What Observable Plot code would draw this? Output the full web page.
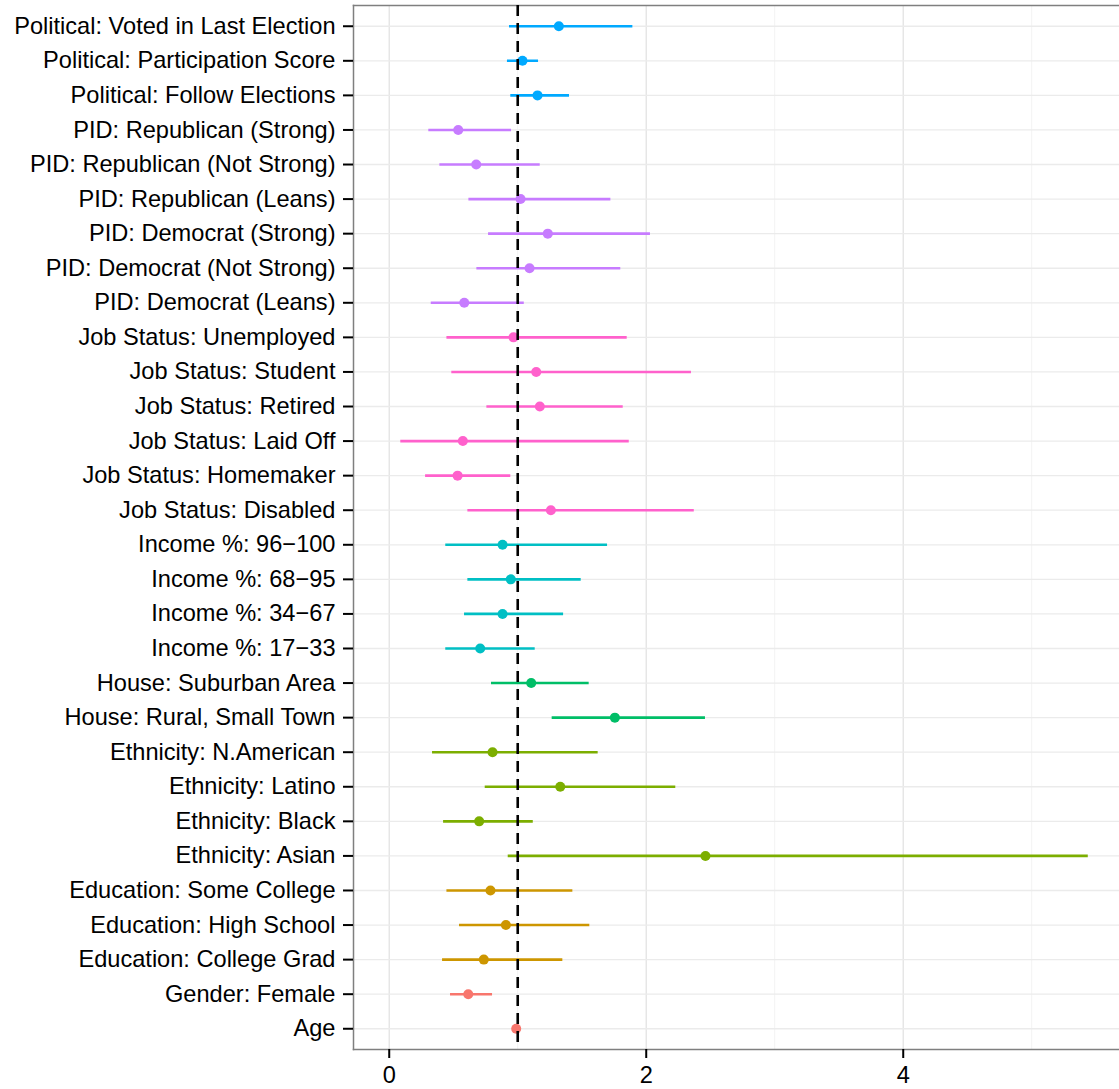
<!DOCTYPE html>
<html><head><meta charset="utf-8">
<script src="https://cdn.jsdelivr.net/npm/d3@7"></script>
<script src="https://cdn.jsdelivr.net/npm/@observablehq/plot@0.6"></script>
<style>html,body{margin:0;padding:0;background:#fff;overflow:hidden} svg{display:block}</style>
</head><body><div id="chart"></div>
<script>
const labels = [
  "Political: Voted in Last Election",
  "Political: Participation Score",
  "Political: Follow Elections",
  "PID: Republican (Strong)",
  "PID: Republican (Not Strong)",
  "PID: Republican (Leans)",
  "PID: Democrat (Strong)",
  "PID: Democrat (Not Strong)",
  "PID: Democrat (Leans)",
  "Job Status: Unemployed",
  "Job Status: Student",
  "Job Status: Retired",
  "Job Status: Laid Off",
  "Job Status: Homemaker",
  "Job Status: Disabled",
  "Income %: 96\u2212100",
  "Income %: 68\u221295",
  "Income %: 34\u221267",
  "Income %: 17\u221233",
  "House: Suburban Area",
  "House: Rural, Small Town",
  "Ethnicity: N.American",
  "Ethnicity: Latino",
  "Ethnicity: Black",
  "Ethnicity: Asian",
  "Education: Some College",
  "Education: High School",
  "Education: College Grad",
  "Gender: Female",
  "Age"
];
const groups = [
  "Political","Political","Political",
  "PID","PID","PID","PID","PID","PID",
  "Job Status","Job Status","Job Status","Job Status","Job Status","Job Status",
  "Income","Income","Income","Income",
  "House","House",
  "Ethnicity","Ethnicity","Ethnicity","Ethnicity",
  "Education","Education","Education",
  "Demographics","Demographics"
];
const estimates = [1.32, 1.037, 1.154, 0.537, 0.677, 1.022, 1.234, 1.092, 0.584, 0.967, 1.144, 1.172, 0.573, 0.532, 1.258, 0.882, 0.946, 0.882, 0.708, 1.105, 1.756, 0.804, 1.331, 0.70, 2.461, 0.788, 0.908, 0.736, 0.615, 0.988];
const lower     = [0.936, 0.92, 0.946, 0.308, 0.394, 0.62, 0.773, 0.682, 0.327, 0.449, 0.487, 0.76, 0.09, 0.283, 0.612, 0.44, 0.612, 0.586, 0.44, 0.796, 1.268, 0.337, 0.747, 0.423, 0.926, 0.449, 0.547, 0.415, 0.477, 0.982];
const upper     = [1.896, 1.162, 1.403, 0.952, 1.175, 1.725, 2.033, 1.802, 1.051, 1.852, 2.352, 1.821, 1.868, 0.946, 2.374, 1.699, 1.494, 1.357, 1.136, 1.556, 2.461, 1.626, 2.23, 1.121, 5.44, 1.429, 1.561, 1.351, 0.804, 0.995];
const groupNames  = ["Demographics","Education","Ethnicity","House","Income","Job Status","PID","Political"];
const groupColors = ["#F8766D","#CD9600","#7CAE00","#00BE67","#00BFC4","#FF61CC","#C77CFF","#00A9FF"];
const xTicks = [0, 2, 4];
const xMinor = [1, 3, 5];
const xDomain = [-0.278, 5.683];
const refValue = [1];

const data = labels.map((label, i) => ({label, group: groups[i], est: estimates[i], lo: lower[i], hi: upper[i]}));

const chart = Plot.plot({
  width: 1119, height: 1089,
  marginLeft: 353, marginRight: 0, marginTop: 5, marginBottom: 40,
  style: {fontFamily: "'Liberation Sans', Arial, Helvetica, sans-serif", fontSize: "23.6px", color: "#000", background: "#fff"},
  x: {domain: xDomain, label: null},
  y: {type: "point", domain: labels, padding: 0.6, round: false, label: null},
  color: {domain: groupNames, range: groupColors},
  marks: [
    Plot.gridX(xMinor, {stroke: "#f3f3f3", strokeOpacity: 1, strokeWidth: 1}),
    Plot.gridX(xTicks, {stroke: "#e3e3e3", strokeOpacity: 1, strokeWidth: 1.3}),
    Plot.gridY(labels, {stroke: "#ebebeb", strokeOpacity: 1, strokeWidth: 1.3}),
    Plot.frame({anchor: "left", stroke: "#7f7f7f", strokeWidth: 1.5}),
    Plot.frame({anchor: "top", stroke: "#7f7f7f", strokeWidth: 1.5}),
    Plot.frame({anchor: "bottom", stroke: "#7f7f7f", strokeWidth: 1.5}),
    Plot.ruleY(data, {y: "label", x1: "lo", x2: "hi", stroke: "group", strokeWidth: 2.6}),
    Plot.dot(data, {x: "est", y: "label", fill: "group", r: 5}),
    Plot.ruleX(refValue, {stroke: "#000", strokeWidth: 2.6, strokeDasharray: "11,7"}),
    Plot.axisY({tickSize: 10, tickPadding: 8, strokeWidth: 2, fontSize: 23.6, label: null}),
    Plot.axisX(xTicks, {tickSize: 9, tickPadding: 8, strokeWidth: 2, fontSize: 23.6, tickFormat: d3.format("d"), label: null})
  ]
});
document.getElementById("chart").appendChild(chart);
</script>
</body></html>
